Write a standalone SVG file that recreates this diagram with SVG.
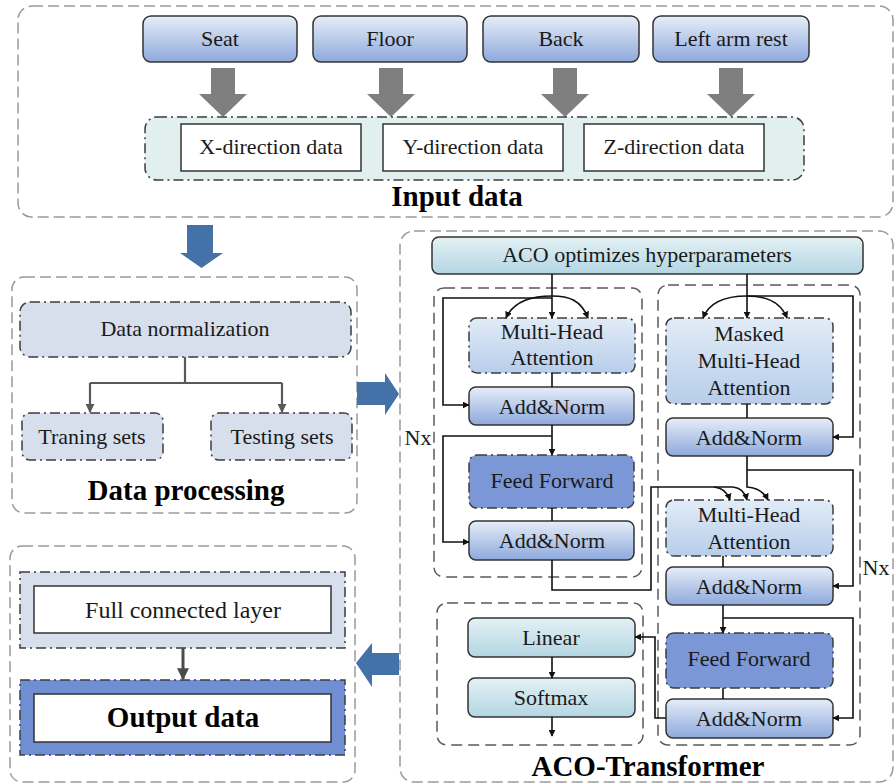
<svg xmlns="http://www.w3.org/2000/svg" width="896" height="784" viewBox="0 0 896 784">
  <defs>
    <linearGradient id="gBlue" x1="0" y1="0" x2="0" y2="1">
      <stop offset="0" stop-color="#e6edf8"/>
      <stop offset="1" stop-color="#8ea9dc"/>
    </linearGradient>
    <linearGradient id="gLight" x1="0" y1="0" x2="0" y2="1">
      <stop offset="0" stop-color="#e2ecf7"/>
      <stop offset="1" stop-color="#b7cdea"/>
    </linearGradient>
    <linearGradient id="gTeal" x1="0" y1="0" x2="0" y2="1">
      <stop offset="0" stop-color="#e4f1f4"/>
      <stop offset="1" stop-color="#b3d6e3"/>
    </linearGradient>
    <marker id="ah" viewBox="0 0 10 10" refX="9" refY="5" markerWidth="7" markerHeight="7" markerUnits="userSpaceOnUse" orient="auto">
      <path d="M0,0 L10,5 L0,10 z" fill="#111"/>
    </marker>
    <marker id="ahGray" viewBox="0 0 10 10" refX="9" refY="5" markerWidth="9" markerHeight="9" markerUnits="userSpaceOnUse" orient="auto">
      <path d="M0,0 L10,5 L0,10 z" fill="#595959"/>
    </marker>
    <marker id="ahBig" viewBox="0 0 10 10" refX="9" refY="5" markerWidth="12" markerHeight="12" markerUnits="userSpaceOnUse" orient="auto">
      <path d="M0,0 L10,5 L0,10 z" fill="#4a4a4a"/>
    </marker>
  </defs>
  <style>
    text { font-family: "Liberation Serif", "Times New Roman", serif; font-size: 22px; fill: #1a1a1a; text-anchor: middle; }
    .title { font-weight: bold; font-size: 29px; fill: #000; }
    .panel { fill: #fff; stroke: #9a9a9a; stroke-width: 1.5; stroke-dasharray: 11 5; }
    .group { fill: none; stroke: #5a5a5a; stroke-width: 1.5; stroke-dasharray: 11 6; }
    .dashdot { stroke: #3c3c3c; stroke-width: 1.5; stroke-dasharray: 10 4 2 4; }
    .solid { stroke: #333; stroke-width: 1.5; }
    .sensor { fill: url(#gBlue); }
    .addnorm { fill: url(#gBlue); }
    .attn { fill: url(#gLight); }
    .ff { fill: #7b97d6; }
    .teal { fill: url(#gTeal); }
    .pale { fill: #d6dfeb; }
    .white { fill: #fff; stroke: #333; stroke-width: 1.5; }
    .grayArrow { fill: #7f7f7f; }
    .blueArrow { fill: #4371a8; }
    .wire { fill: none; stroke: #111; stroke-width: 1.6; }
    .wireGray { fill: none; stroke: #595959; stroke-width: 2.2; }
  </style>

  <!-- section panels -->
  <rect x="18" y="6" width="875" height="211" rx="14" class="panel"/>
  <rect x="12" y="277" width="345" height="236" rx="12" class="panel"/>
  <rect x="10" y="546" width="345" height="236" rx="12" class="panel"/>
  <rect x="400" y="231" width="493" height="551" rx="14" class="panel"/>

  <!-- input data -->
  <g id="seat"><rect x="143" y="16" width="154" height="46" rx="8" class="sensor solid"/><text x="220" y="46">Seat</text></g>
  <g id="floor"><rect x="313" y="16" width="154" height="46" rx="8" class="sensor solid"/><text x="390" y="46">Floor</text></g>
  <g id="back"><rect x="483" y="16" width="156" height="46" rx="8" class="sensor solid"/><text x="561" y="46">Back</text></g>
  <g id="left-arm-rest"><rect x="653" y="16" width="156" height="46" rx="8" class="sensor solid"/><text x="731" y="46">Left arm rest</text></g>

  <g id="input-arrows">
    <path class="grayArrow" d="M211,68 h24 v26 h12 l-24,23 l-24,-23 h12 z"/>
    <path class="grayArrow" d="M379,68 h24 v26 h12 l-24,23 l-24,-23 h12 z"/>
    <path class="grayArrow" d="M553,68 h24 v26 h12 l-24,23 l-24,-23 h12 z"/>
    <path class="grayArrow" d="M719,68 h24 v26 h12 l-24,23 l-24,-23 h12 z"/>
  </g>

  <g id="direction-data">
    <rect x="145" y="117" width="659" height="63" rx="12" fill="#e1f0ee" class="dashdot"/>
    <g id="x-data"><rect x="181" y="124" width="180" height="47" class="white"/><text x="271" y="154">X-direction data</text></g>
    <g id="y-data"><rect x="383" y="124" width="180" height="47" class="white"/><text x="473" y="154">Y-direction data</text></g>
    <g id="z-data"><rect x="584" y="124" width="180" height="47" class="white"/><text x="674" y="154">Z-direction data</text></g>
  </g>
  <text class="title" x="457" y="206">Input data</text>

  <!-- flow between panels -->
  <path class="blueArrow" d="M187,225 h26 v28 h10 l-21.5,15 l-21.5,-15 h7 z"/>
  <path class="blueArrow" d="M357,382 h28 v-9 l14,21 l-14,21 v-10 h-28 z"/>
  <path class="blueArrow" d="M399,653 h-27 v-10 l-16,20 l16,24 v-12 h27 z"/>

  <!-- data processing -->
  <g id="data-normalization"><rect x="20" y="302" width="331" height="55" rx="10" class="pale dashdot"/><text x="185" y="336">Data normalization</text></g>
  <g id="training-sets"><rect x="22" y="413" width="141" height="47" rx="8" class="pale dashdot"/><text x="92" y="444">Traning sets</text></g>
  <g id="testing-sets"><rect x="211" y="413" width="141" height="47" rx="8" class="pale dashdot"/><text x="282" y="444">Testing sets</text></g>
  <text class="title" x="186" y="500">Data processing</text>

  <!-- output -->
  <g id="full-connected-layer">
    <rect x="20" y="572" width="325" height="76" class="pale dashdot"/>
    <rect x="34" y="586" width="297" height="47" class="white"/>
    <text x="183" y="618" style="font-size:24px">Full connected layer</text>
  </g>
  <g id="output-data">
    <rect x="20" y="680" width="325" height="75" fill="#6f8fd2" class="dashdot"/>
    <rect x="34" y="694" width="297" height="48" class="white"/>
    <text class="title" x="183" y="727">Output data</text>
  </g>

  <!-- transformer -->
  <g id="aco"><rect x="432" y="237" width="431" height="37" rx="7" class="teal solid"/><text x="647" y="262">ACO optimizes hyperparameters</text></g>

  <rect x="434" y="288" width="208" height="289" rx="10" class="group"/>
  <rect x="658" y="285" width="202" height="460" rx="10" class="group"/>
  <rect x="437" y="603" width="206" height="142" rx="10" class="group"/>

  <g id="enc-mha"><rect x="469" y="318" width="166" height="55" rx="8" class="attn dashdot"/><text x="552" y="339">Multi-Head</text><text x="552" y="365">Attention</text></g>
  <g id="enc-addnorm-1"><rect x="469" y="387" width="165" height="38" rx="7" class="addnorm solid"/><text x="552" y="414">Add&amp;Norm</text></g>
  <g id="enc-ff"><rect x="469" y="455" width="165" height="53" rx="8" class="ff dashdot"/><text x="552" y="488">Feed Forward</text></g>
  <g id="enc-addnorm-2"><rect x="469" y="521" width="165" height="39" rx="7" class="addnorm solid"/><text x="552" y="548">Add&amp;Norm</text></g>
  <text x="418" y="445">Nx</text>

  <g id="dec-masked-mha"><rect x="666" y="318" width="167" height="86" rx="8" class="attn dashdot"/><text x="749" y="341">Masked</text><text x="749" y="368">Multi-Head</text><text x="749" y="395">Attention</text></g>
  <g id="dec-addnorm-1"><rect x="666" y="418" width="167" height="38" rx="7" class="addnorm solid"/><text x="749" y="445">Add&amp;Norm</text></g>
  <g id="dec-mha"><rect x="666" y="500" width="167" height="56" rx="8" class="attn dashdot"/><text x="749" y="522">Multi-Head</text><text x="749" y="549">Attention</text></g>
  <g id="dec-addnorm-2"><rect x="666" y="567" width="167" height="38" rx="7" class="addnorm solid"/><text x="749" y="594">Add&amp;Norm</text></g>
  <g id="dec-ff"><rect x="666" y="633" width="167" height="55" rx="8" class="ff dashdot"/><text x="749" y="666">Feed Forward</text></g>
  <g id="dec-addnorm-3"><rect x="666" y="699" width="167" height="39" rx="7" class="addnorm solid"/><text x="749" y="726">Add&amp;Norm</text></g>
  <text x="876" y="575">Nx</text>

  <g id="linear"><rect x="468" y="618" width="167" height="39" rx="7" class="teal solid"/><text x="551" y="645">Linear</text></g>
  <g id="softmax"><rect x="468" y="678" width="167" height="39" rx="7" class="teal solid"/><text x="551" y="705">Softmax</text></g>

  <text class="title" x="648" y="776">ACO-Transformer</text>

  <!-- connectors -->
  <g id="connectors">
    <path class="wireGray" d="M185,357 V383 M90,383 H282"/>
    <path class="wireGray" d="M90,383 V412" marker-end="url(#ahGray)"/>
    <path class="wireGray" d="M282,383 V412" marker-end="url(#ahGray)"/>
    <path fill="none" stroke="#4a4a4a" stroke-width="3" d="M183,648 V679" marker-end="url(#ahBig)"/>

    <!-- encoder -->
    <path class="wire" d="M552,274 V318" marker-end="url(#ah)"/>
    <path class="wire" d="M552,296 C535,296 514,300 506,318" marker-end="url(#ah)"/>
    <path class="wire" d="M552,296 C569,296 581,300 588,318" marker-end="url(#ah)"/>
    <path class="wire" d="M552,298 H443 V405 H469" marker-end="url(#ah)"/>
    <path class="wire" d="M552,373 V387"/>
    <path class="wire" d="M552,425 V455" marker-end="url(#ah)"/>
    <path class="wire" d="M552,436 H443 V542 H469" marker-end="url(#ah)"/>
    <path class="wire" d="M552,508 V521"/>
    <path class="wire" d="M552,560 V590 H651 V487 H714 Q726,488 730,500" marker-end="url(#ah)"/>
    <path class="wire" d="M714,487 H733 Q744,488 747,500" marker-end="url(#ah)"/>

    <!-- decoder -->
    <path class="wire" d="M747,274 V318" marker-end="url(#ah)"/>
    <path class="wire" d="M747,296 C730,296 710,300 703,318" marker-end="url(#ah)"/>
    <path class="wire" d="M747,296 C764,296 780,300 787,318" marker-end="url(#ah)"/>
    <path class="wire" d="M747,296 H853 V437 H833" marker-end="url(#ah)"/>
    <path class="wire" d="M747,404 V418"/>
    <path class="wire" d="M747,456 V487 Q762,488 768,500" marker-end="url(#ah)"/>
    <path class="wire" d="M747,470 H853 V586 H833" marker-end="url(#ah)"/>
    <path class="wire" d="M723,556 V567"/>
    <path class="wire" d="M723,605 V633" marker-end="url(#ah)"/>
    <path class="wire" d="M723,618 H853 V718 H833" marker-end="url(#ah)"/>
    <path class="wire" d="M723,688 V699"/>

    <!-- output head -->
    <path class="wire" d="M666,718 H655 V637 H635" marker-end="url(#ah)"/>
    <path class="wire" d="M552,657 V678" marker-end="url(#ah)"/>
    <path class="wire" d="M552,717 V736" marker-end="url(#ah)"/>
  </g>
</svg>
